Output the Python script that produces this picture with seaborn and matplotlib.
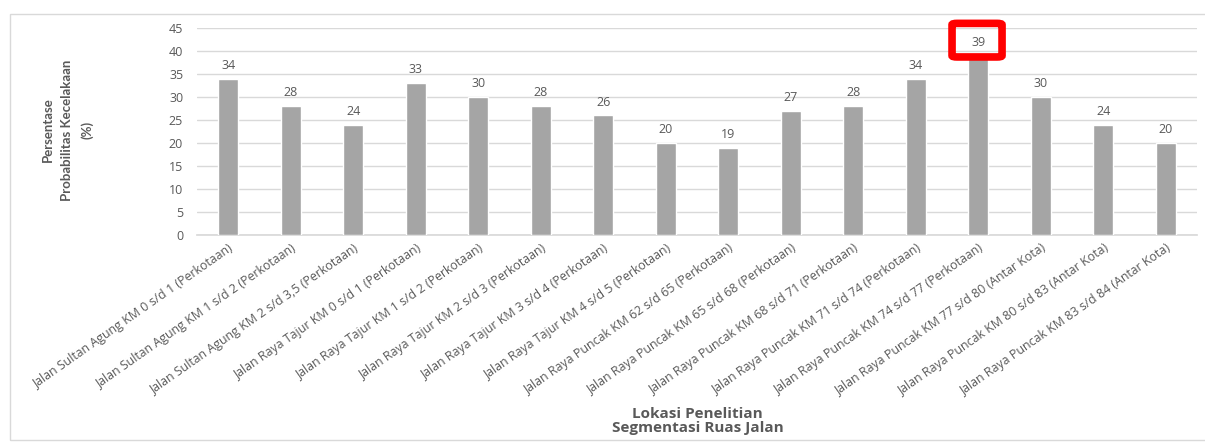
import matplotlib
matplotlib.use("Agg")
import matplotlib.pyplot as plt
import seaborn as sns
import pandas as pd
from matplotlib.patches import FancyBboxPatch, Rectangle
from matplotlib import font_manager

segments = [
    "Jalan Sultan Agung KM 0 s/d 1 (Perkotaan)",
    "Jalan Sultan Agung KM 1 s/d 2 (Perkotaan)",
    "Jalan Sultan Agung KM 2 s/d 3,5 (Perkotaan)",
    "Jalan Raya Tajur KM 0 s/d 1 (Perkotaan)",
    "Jalan Raya Tajur KM 1 s/d 2 (Perkotaan)",
    "Jalan Raya Tajur KM 2 s/d 3 (Perkotaan)",
    "Jalan Raya Tajur KM 3 s/d 4 (Perkotaan)",
    "Jalan Raya Tajur KM 4 s/d 5 (Perkotaan)",
    "Jalan Raya Puncak KM 62 s/d 65 (Perkotaan)",
    "Jalan Raya Puncak KM 65 s/d 68 (Perkotaan)",
    "Jalan Raya Puncak KM 68 s/d 71 (Perkotaan)",
    "Jalan Raya Puncak KM 71 s/d 74 (Perkotaan)",
    "Jalan Raya Puncak KM 74 s/d 77 (Perkotaan)",
    "Jalan Raya Puncak KM 77 s/d 80 (Antar Kota)",
    "Jalan Raya Puncak KM 80 s/d 83 (Antar Kota)",
    "Jalan Raya Puncak KM 83 s/d 84 (Antar Kota)",
]
probability = [34, 28, 24, 33, 30, 28, 26, 20, 19, 27, 28, 34, 39, 30, 24, 20]
y_ticks = [0, 5, 10, 15, 20, 25, 30, 35, 40, 45]
highlight = 12

df = pd.DataFrame({"segment": segments, "value": probability})

sns.set_theme(style="white")
plt.rcParams["font.family"] = ["Open Sans", "DejaVu Sans"]

installed = {f.name for f in font_manager.fontManager.ttflist}
narrow = "Liberation Sans Narrow" if "Liberation Sans Narrow" in installed else "Lato"

text_color = "#595959"
fig = plt.figure(figsize=(12.05, 4.47), dpi=100)
ax = fig.add_axes([0.1635, 0.4743, 0.8299, 0.4631])

sns.barplot(data=df, x="segment", y="value", color="#a5a5a5",
            saturation=1, width=0.32, ax=ax, zorder=3)

ax.set_ylim(0, 45)
ax.set_xlim(-0.5, len(segments) - 0.5)
ax.set_yticks(y_ticks)
ax.grid(axis="y", color="#d9d9d9", linewidth=1, zorder=0)
for s in ["top", "right", "left"]:
    ax.spines[s].set_visible(False)
ax.spines["bottom"].set_color("#d9d9d9")
ax.tick_params(axis="y", length=0, labelsize=9, labelcolor=text_color, pad=10)
ax.tick_params(axis="x", length=0, labelsize=8.9, labelcolor=text_color, pad=5)
plt.setp(ax.get_xticklabels(), rotation=35, ha="right", rotation_mode="anchor")

for i, v in enumerate(probability):
    ax.annotate(f"{v}", (i, v), xytext=(0, 9.5), textcoords="offset points",
                ha="center", va="center", fontsize=9, color=text_color)

# highlight frame around the largest value
box = FancyBboxPatch((highlight - 0.42, 38.7), 0.80, 7.3,
                     boxstyle="round,pad=0,rounding_size=0.08",
                     fill=False, edgecolor="#ff0000", linewidth=5.5,
                     clip_on=False, zorder=5, mutation_aspect=4)
ax.add_patch(box)

ax.set_xlabel("")
ax.set_ylabel("")
fig.text(0.056, 0.709, "Persentase\nProbabilitas Kecelakaan\n(%)",
         rotation=90, ha="center", va="center", fontsize=9.5,
         fontweight="bold", color=text_color, family=[narrow, "DejaVu Sans"],
         linespacing=1.7)
fig.text(0.579, 0.058, "Lokasi Penelitian\nSegmentasi Ruas Jalan",
         ha="center", va="center", fontsize=11, fontweight="bold",
         color=text_color, linespacing=1.05)

fig.patches.append(Rectangle((10 / 1205, 7 / 447), 1.2, 426 / 447,
                             transform=fig.transFigure, fill=False,
                             edgecolor="#d9d9d9", linewidth=1))

fig.savefig("out.png", dpi=100)
